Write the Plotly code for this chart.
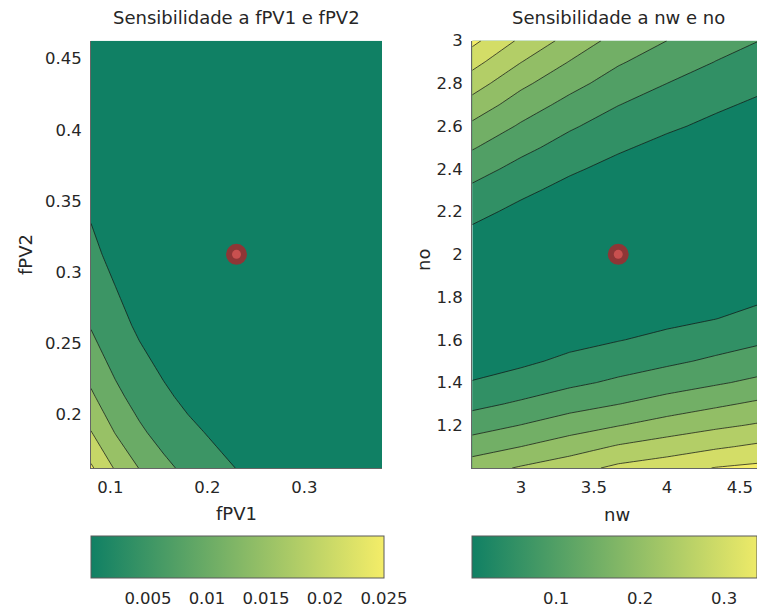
import plotly.graph_objects as go

# ---------------- data: left panel (fPV1 x fPV2) ----------------
fpv1_grid = [0.08, 0.105, 0.13, 0.155, 0.18, 0.23, 0.28, 0.33, 0.38]
fpv2_grid = [0.1625, 0.1875, 0.2125, 0.2375, 0.2625, 0.3125, 0.3625, 0.4125, 0.4625]
sens_fpv = [
    [0.0257, 0.0195, 0.0148, 0.0113, 0.0086, 0.0049, 0.0029, 0.0016, 0.0010],
    [0.0202, 0.0148, 0.0109, 0.0080, 0.0059, 0.0032, 0.0017, 0.0009, 0.0005],
    [0.0158, 0.0113, 0.0080, 0.0057, 0.0041, 0.0021, 0.0011, 0.0005, 0.0003],
    [0.0124, 0.0086, 0.0059, 0.0041, 0.0028, 0.0013, 0.0006, 0.0003, 0.0002],
    [0.0097, 0.0065, 0.0043, 0.0029, 0.0019, 0.0009, 0.0004, 0.0002, 0.0002],
    [0.0060, 0.0038, 0.0024, 0.0015, 0.0009, 0.0004, 0.0002, 0.0002, 0.0002],
    [0.0037, 0.0022, 0.0013, 0.0008, 0.0004, 0.0002, 0.0002, 0.0002, 0.0002],
    [0.0023, 0.0013, 0.0007, 0.0004, 0.0002, 0.0002, 0.0002, 0.0002, 0.0002],
    [0.0014, 0.0007, 0.0004, 0.0002, 0.0002, 0.0002, 0.0002, 0.0002, 0.0002],
]
fpv_point_x = [0.23]
fpv_point_y = [0.3125]
fpv_levels = [0.005, 0.025, 0.005]          # start, end, step
fpv_crange = [0.00017, 0.025]
fpv_xticks = [0.1, 0.2, 0.3]
fpv_xticklabels = ["0.1", "0.2", "0.3"]
fpv_yticks = [0.2, 0.25, 0.3, 0.35, 0.4, 0.45]
fpv_yticklabels = ["0.2", "0.25", "0.3", "0.35", "0.4", "0.45"]
fpv_cticks = [0.005, 0.01, 0.015, 0.02, 0.025]
fpv_cticklabels = ["0.005", "0.01", "0.015", "0.02", "0.025"]

# ---------------- data: right panel (nw x no) ----------------
nw_grid = [2.6667, 3.0, 3.3333, 3.6667, 4.0, 4.3333, 4.6667]
no_grid = [1.0, 1.1, 1.2, 1.3, 1.4, 1.5, 1.6, 1.7, 1.8, 1.9, 2.0,
           2.1, 2.2, 2.3, 2.4, 2.5, 2.6, 2.7, 2.8, 2.9, 3.0]
sens_n = [
    [0.227, 0.255, 0.280, 0.311, 0.328, 0.352, 0.363],
    [0.176, 0.200, 0.226, 0.255, 0.274, 0.293, 0.311],
    [0.128, 0.151, 0.176, 0.198, 0.221, 0.240, 0.257],
    [0.087, 0.107, 0.130, 0.149, 0.170, 0.191, 0.211],
    [0.052, 0.070, 0.090, 0.108, 0.127, 0.144, 0.163],
    [0.032, 0.041, 0.060, 0.077, 0.091, 0.108, 0.125],
    [0.019, 0.024, 0.036, 0.048, 0.062, 0.078, 0.094],
    [0.012, 0.013, 0.020, 0.027, 0.038, 0.049, 0.067],
    [0.010, 0.007, 0.009, 0.012, 0.023, 0.034, 0.044],
    [0.014, 0.006, 0.004, 0.003, 0.012, 0.022, 0.031],
    [0.025, 0.011, 0.004, 0.000, 0.005, 0.014, 0.021],
    [0.041, 0.022, 0.009, 0.002, 0.003, 0.009, 0.014],
    [0.064, 0.038, 0.020, 0.009, 0.005, 0.008, 0.011],
    [0.090, 0.060, 0.036, 0.020, 0.012, 0.011, 0.010],
    [0.120, 0.085, 0.057, 0.036, 0.022, 0.017, 0.013],
    [0.154, 0.113, 0.081, 0.056, 0.037, 0.026, 0.019],
    [0.190, 0.144, 0.106, 0.078, 0.057, 0.040, 0.029],
    [0.230, 0.176, 0.135, 0.101, 0.078, 0.057, 0.041],
    [0.273, 0.211, 0.166, 0.128, 0.100, 0.078, 0.058],
    [0.317, 0.251, 0.198, 0.155, 0.125, 0.099, 0.078],
    [0.363, 0.291, 0.233, 0.182, 0.150, 0.119, 0.098],
]
n_point_x = [3.6667]
n_point_y = [2.0]
n_levels = [0.05, 0.35, 0.05]
n_crange = [0.0, 0.35]
n_cbar_visible_max = 0.339
n_xticks = [3, 3.5, 4, 4.5]
n_xticklabels = ["3", "3.5", "4", "4.5"]
n_yticks = [1.2, 1.4, 1.6, 1.8, 2.0, 2.2, 2.4, 2.6, 2.8, 3.0]
n_yticklabels = ["1.2", "1.4", "1.6", "1.8", "2", "2.2", "2.4", "2.6", "2.8", "3"]
n_cticks = [0.1, 0.2, 0.3]
n_cticklabels = ["0.1", "0.2", "0.3"]

# ---------------- styling ----------------
W, H = 757, 608
DARK = (16, 128, 100)
LIGHT = (244, 237, 104)
FONT = "DejaVu Sans, Liberation Sans, Arial, sans-serif"
TXT = "#262626"


def cmap(t):
    t = max(0.0, min(1.0, t))
    return "rgb(%d,%d,%d)" % tuple(round(a + (b - a) * t) for a, b in zip(DARK, LIGHT))


def band_scale(levels, crange):
    start, end, step = levels
    n = int(round((end - start) / step)) + 1
    stops = []
    for k in range(n + 1):
        lev = crange[0] if k == 0 else start + (k - 1) * step
        stops.append([k / n, cmap((lev - crange[0]) / (crange[1] - crange[0]))])
    return stops


def px_x(p):
    return p / W


def px_y(p):
    return 1 - p / H


fig = go.Figure()

panels = [
    dict(x=fpv1_grid, y=fpv2_grid, z=sens_fpv, lev=fpv_levels, cr=fpv_crange,
         px=fpv_point_x, py=fpv_point_y, xa="x", ya="y"),
    dict(x=nw_grid, y=no_grid, z=sens_n, lev=n_levels, cr=n_crange,
         px=n_point_x, py=n_point_y, xa="x2", ya="y2"),
]

for p in panels:
    fig.add_trace(go.Contour(
        x=p["x"], y=p["y"], z=p["z"], xaxis=p["xa"], yaxis=p["ya"],
        autocontour=False,
        contours=dict(start=p["lev"][0], end=p["lev"][1], size=p["lev"][2],
                      coloring="fill", showlines=True),
        line=dict(color="rgba(20,20,20,0.9)", width=0.8, smoothing=0),
        colorscale=band_scale(p["lev"], p["cr"]),
        showscale=False, hoverinfo="skip",
    ))
    fig.add_trace(go.Scatter(
        x=p["px"], y=p["py"], xaxis=p["xa"], yaxis=p["ya"], mode="markers",
        marker=dict(size=21, color="#8e3636"), showlegend=False, hoverinfo="skip"))
    fig.add_trace(go.Scatter(
        x=p["px"], y=p["py"], xaxis=p["xa"], yaxis=p["ya"], mode="markers",
        marker=dict(size=9, color="#c9504f"), showlegend=False, hoverinfo="skip"))

# colorbars
cbars = [
    dict(cmin=fpv_crange[0], cmax=fpv_crange[1], c1=1.0, x0=91, x1=384,
         tv=fpv_cticks, tt=fpv_cticklabels, xa="x", ya="y"),
    dict(cmin=n_crange[0], cmax=n_cbar_visible_max,
         c1=n_cbar_visible_max / n_crange[1], x0=472, x1=757,
         tv=n_cticks, tt=n_cticklabels, xa="x2", ya="y2"),
]
for c in cbars:
    fig.add_trace(go.Scatter(
        x=[None], y=[None], xaxis=c["xa"], yaxis=c["ya"], mode="markers",
        showlegend=False, hoverinfo="skip",
        marker=dict(
            color=[c["cmin"]], cmin=c["cmin"], cmax=c["cmax"],
            colorscale=[[0, cmap(0)], [1, cmap(c["c1"])]], showscale=True,
            colorbar=dict(
                orientation="h", lenmode="pixels", len=c["x1"] - c["x0"],
                thicknessmode="pixels", thickness=42,
                x=px_x((c["x0"] + c["x1"]) / 2), xanchor="center",
                y=px_y(536), yanchor="top", xpad=0, ypad=0,
                outlinewidth=1, outlinecolor="#5a5a5a",
                tickmode="array", tickvals=c["tv"], ticktext=c["tt"],
                ticks="outside", ticklen=6, tickcolor="rgba(0,0,0,0)",
                tickfont=dict(family=FONT, size=16.5, color=TXT),
            ),
        ),
    ))

axis_common = dict(showgrid=False, zeroline=False, ticks="", showline=True,
                   linecolor="#666666", linewidth=1, mirror=False,
                   tickfont=dict(family=FONT, size=16.5, color=TXT),
                   tickmode="array", automargin=False)

fig.update_layout(
    width=W, height=H, margin=dict(l=0, r=0, t=0, b=0, pad=0, autoexpand=False),
    paper_bgcolor="white", plot_bgcolor="white", showlegend=False,
    xaxis=dict(axis_common, domain=[px_x(91), px_x(382)], range=[0.08, 0.38],
               tickvals=fpv_xticks, ticktext=fpv_xticklabels, anchor="y",
               ticklabelstandoff=4),
    yaxis=dict(axis_common, domain=[px_y(468), px_y(40.7)], range=[0.1625, 0.4625],
               tickvals=fpv_yticks, ticktext=fpv_yticklabels, anchor="x",
               ticklabelstandoff=5),
    xaxis2=dict(axis_common, domain=[px_x(472), 1.0], range=[2.665, 4.617],
                tickvals=n_xticks, ticktext=n_xticklabels, anchor="y2",
                ticklabelstandoff=4),
    yaxis2=dict(axis_common, domain=[px_y(468), px_y(40.7)], range=[1.0, 3.0],
                tickvals=n_yticks, ticktext=n_yticklabels, anchor="x2",
                ticklabelstandoff=5),
)

ann = [
    ("Sensibilidade a fPV1 e fPV2", 236.5, 18, 0, 18),
    ("Sensibilidade a nw e no", 618, 18, 0, 18),
    ("fPV1", 236.5, 513, 0, 18),
    ("nw", 617, 514, 0, 18),
    ("fPV2", 26, 255, -90, 18),
    ("no", 424, 260, -90, 18),
]
for text, x, y, ang, size in ann:
    fig.add_annotation(text=text, x=px_x(x), y=px_y(y), xref="paper", yref="paper",
                       xanchor="center", yanchor="middle", showarrow=False,
                       textangle=ang, font=dict(family=FONT, size=size, color=TXT))

fig.write_html(
    "out.html",
    config={"displayModeBar": False, "staticPlot": True},
    post_script="document.body.style.margin='0';document.body.style.overflow='hidden';",
)
